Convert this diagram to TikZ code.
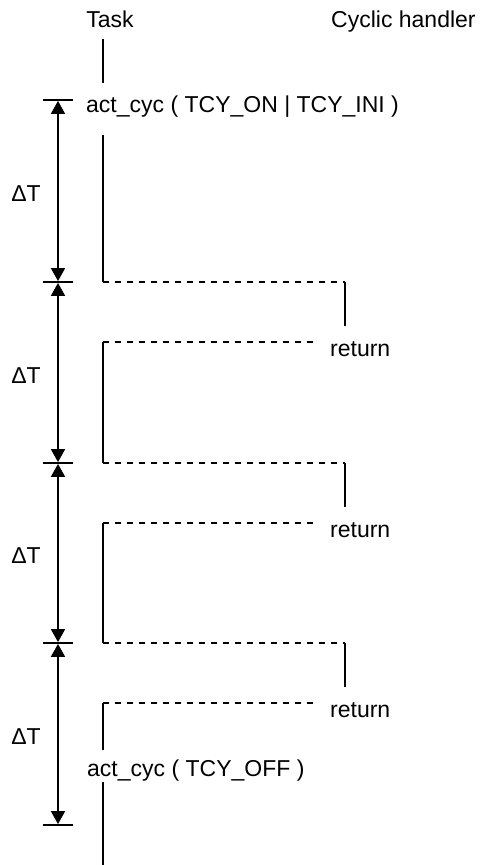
\documentclass[tikz,border=0pt]{standalone}
\usepackage{fontspec}
\setmainfont{Liberation Sans}
\usetikzlibrary{arrows.meta,calc}
\begin{document}
\begin{tikzpicture}[x=1pt,y=-1pt,
  lbl/.style={inner sep=0pt,font=\fontsize{23}{26}\selectfont},
  life/.style={line width=1.8pt},
  call/.style={line width=1.6pt,dash pattern=on 6pt off 6pt},
  tick/.style={line width=1.8pt},
  span/.style={line width=1.8pt,{Triangle[length=13pt,width=14pt]}-{Triangle[length=13pt,width=14pt]},shorten <=0.9pt,shorten >=0.9pt}]
\useasboundingbox (0,0) rectangle (481,865);
% column headings
\node[lbl,anchor=base] (task) at (110,27) {Task};
\node[lbl,anchor=base west] (hdl) at (331,27) {Cyclic handler};
% activation call
\node[lbl,anchor=base west] (on) at (86,112) {act\_cyc ( TCY\_ON | TCY\_INI )};
\coordinate (t0) at (103,39);
\coordinate (t1) at (103,83);
\coordinate (t2) at (103,135);
\draw[life] (t0) -- (t1);
% cycle boundaries on the time axis
\foreach \i/\y in {0/100,1/282,2/463,3/643,4/825}{
  \coordinate (a\i) at (58,\y);
  \coordinate (l\i) at (43,\y);
  \coordinate (r\i) at (73,\y);
  \draw[tick] (l\i) -- (r\i);
}
\foreach \i/\j in {0/1,1/2,2/3,3/4}{
  \draw[span] (a\i) -- (a\j);
  \node[lbl] (dt\i) at ($(a\i)!0.5!(a\j)+(-32,3)$) {ΔT};
}
% task runs until the first handler start
\coordinate (k1) at (103,282);
\draw[life] (t2) -- (k1);
% three handler invocations
\foreach \i/\y in {1/282,2/463,3/643}{
  \coordinate (s\i) at (103,\y);
  \coordinate (h\i) at (345,\y);
  \coordinate (e\i) at (345,\y+44);
  \coordinate (b\i) at (103,\y+60);
  \coordinate (q\i) at (313,\y+60);
  \draw[call] (s\i) -- (h\i);
  \draw[life] (h\i) -- (e\i);
  \node[lbl,anchor=base west] (ret\i) at (330,\y+74) {return};
  \draw[call] (q\i) -- (b\i);
}
\coordinate (n1) at (103,463);
\coordinate (n2) at (103,643);
\draw[life] (b1) -- (n1);
\draw[life] (b2) -- (n2);
% deactivation call
\node[lbl,anchor=west] (off) at (87,771) {act\_cyc ( TCY\_OFF )};
\coordinate (f1) at (103,750);
\coordinate (f2) at (103,782);
\coordinate (f3) at (103,865);
\draw[life] (b3) -- (f1);
\draw[life] (f2) -- (f3);
\end{tikzpicture}
\end{document}
